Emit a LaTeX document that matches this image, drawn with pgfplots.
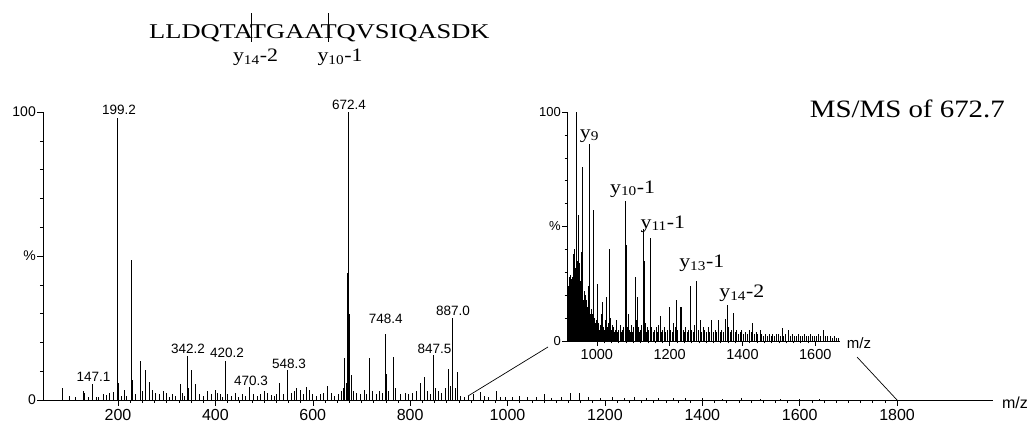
\documentclass[border=0pt]{standalone}
\usepackage{fontspec}
\setmainfont{Liberation Serif}
\newfontfamily\arial{Liberation Sans}
\usepackage{pgfplots}
\pgfplotsset{compat=1.18}

% main spectrum (m/z, relative intensity)
\pgfplotstableread{
mz int
85 4.0
100 1.5
112 1.0
128 3.2
131 2.5
140 1.2
147.1 5.5
155 1.0
160 1.2
170 2.2
175 1.8
183 2.5
190 2.8
199.2 98
201 6
206 1.5
212 3.5
218 1.5
227 48.6
229 7
236 2
245 13.7
250 3
256 10.4
264 6.4
270 3.5
276 2.5
285 2
292 3
300 2.5
306 1.2
311 2
318 1.5
327 5.5
332 2.5
336 1.5
342.2 15.4
345 4
350 10.4
358 5.5
366 2
375 1.5
384 3
392 2
399 3.5
403 2.5
410 2
414 1.2
420.2 13.6
425 2
432 1.5
440 2.5
448 1.2
455 2
462 1.5
470.3 4.6
478 2
486 1.5
492 2
500 3
507 2.5
514 1.8
520 1.5
526 2
531 6
540 2
548.3 10.4
556 2.5
562 3
567 4
575 3.5
580 2
586 4.6
592 3.5
600 2
608 1.5
615 2
622 2.5
629 5
637 2.5
645 1.5
652 2
658 3
662 4
665 14.6
668 6
670 44
671 39
672.4 100
673.4 62
674.4 30
676 10
679 8.7
684 3
690 2.5
698 2
705 3.5
710 2
716 14.6
722 3
730 2
737 3
742 2.5
748.4 23
750 9
756 3
765 15
770 4
780 2
790 2.5
797 2
805 2.5
812 3
821.5 6
829 8
835 3
841 2
847.5 15.6
852 4
858 3
864 2.5
872 4
878 10.6
882 5
887.0 28.6
892 4
897.5 9.8
903 1.5
912 1
920 1.5
930 2
945 2.9
952 1.5
960 1.2
977 3
985 1
995 1.2
1010 1
1025 1.5
1040 1
1058 1.2
1075 2
1090 0.8
1110 1
1128 2.5
1147 2.5
1165 1
1190 0.8
1215 1
1240 0.8
1260 1
1285 0.7
1310 0.8
1340 0.6
1365 0.8
1400 0.6
1440 0.5
1480 0.6
1520 0.5
1560 0.5
1600 0.4
1640 0.4
}\mainspec

% zoomed region 918-1668
\pgfplotstableread{
mz int
918 16
919 22
920 20
921 12
922 24
923 15
924 28
925 18
926 25
927 29
928 14
929 20
930 27
931 16
932 22
933 28
934 38
935 18
936 24
937 40
938 20
939 38
940 25
941 18
942 32
943 22
944 100
945 30
946 18
947 35
948 20
949 28
950 55
951 22
952 34
953 18
954 26
955 20
956 39
957 16
958 24
959 14
960 76
961 20
962 18
963 14
964 22
965 12
966 16
967 20
968 10
969 14
970 18
971 12
972 10
973 15
974 12
975 9
976 14
977 24
978 86
979 48
980 16
981 10
982 12
983 8
984 14
985 10
986 7
987 12
988 9
989 8
990 57
991 18
992 10
993 7
994 9
995 6
996 8
997 7
998 5
999 9
1001 25
1003 6
1005 8
1007 5
1009 7
1011 12
1014.6 17
1017 6
1020 5
1022 9
1025 19
1028 6
1030 8
1034 40
1036 10
1039 5
1042 7
1045 6
1048 4
1051 5
1054 9
1057 4
1060 5
1063 7
1066 4
1069 5
1072 6
1077 61
1080 42
1083 6
1085 12
1088 5
1091 4
1094 7
1097 4
1100 6
1104.5 28
1108 9
1111 19
1114 6
1117 4
1120 5
1123 7
1127 49
1129 35
1132 8
1135 4
1138 6
1141 5
1146 45
1150 6
1154 4
1158 5
1162 6
1165 4
1169 7
1173 11
1177 4
1181 5
1185 6
1189 4
1193 5
1199 15
1203 5
1207 4
1211 8
1215 6
1219 18
1222 5
1228 15
1232 15
1236 5
1240 4
1244 6
1248 4
1252 5
1256 24
1260 5
1264 4
1268 7
1274 26
1278 5
1283 9
1287 4
1291 6
1296 5
1300 4
1305 6
1310 4
1315.5 9
1320 4
1325 5
1329 4
1333 9
1338 4
1343 5
1347 4
1352 9.6
1357 15.7
1362 6
1366 4
1370 5
1375 12.4
1379 4
1384 5
1388 3
1393 4
1398 5
1403 3
1408 4
1413 3
1418 5
1423 4
1427 7.7
1432 3
1437 4
1442 3
1448 4.7
1453 3
1458 2
1463 3
1468 2
1473 3
1478 2
1483 3
1488 2
1493 3
1497 3
1503 2
1508 5.5
1513 2
1518 3
1525 5
1530 2
1536 3
1541 2
1547 2
1552 3
1558 2
1563 2
1569 3
1574 2
1580 2
1586 3
1591 2
1597 2
1603 2
1609 3
1615 2
1622.6 4.7
1628 2
1634 2
1640 2
1646 1.5
1652 2
1658 1.5
1664 1.5
}\zoomspec

\newcommand\pk[1]{{\arial\fontsize{13.5}{13.5}\selectfont #1}}
\newcommand\yion[2]{\scalebox{1.15}[1]{\fontsize{19}{19}\selectfont y\textsubscript{#1}#2}}

\begin{document}
\begin{tikzpicture}
\useasboundingbox (-43pt,-27pt) rectangle (988pt,400pt);

\pgfplotsset{spec/.style={
  scale only axis, clip=false,
  axis x line=bottom, axis y line=left,
  axis line style={-, line width=0.8pt},
  tick align=outside, tick style={black, line width=0.5pt},
  ymin=0, ymax=100,
  ytick={0,50,100}, yticklabels={0,\%,100}, minor y tick num=4,
  /pgf/number format/1000 sep={},
  /pgf/number format/assume math mode=true,
}}

\begin{axis}[spec, at={(0pt,0pt)}, anchor=south west,
  width=950pt, height=288pt,
  xmin=46, xmax=1997,
  xtick={200,400,...,1800}, minor x tick num=7,
  major tick length=6pt, minor tick length=3pt,
  xticklabel style={font=\arial\fontsize{16}{16}\selectfont},
  yticklabel style={font=\arial\fontsize{14}{14}\selectfont, inner sep=1pt},
]
\addplot[ycomb, black, line width=0.55pt, mark=none] table[x=mz, y=int] {\mainspec};
\node[anchor=base] at (axis cs:202,99) {\pk{199.2}};
\node[anchor=base] at (axis cs:674.3,100.7) {\pk{672.4}};
\node[anchor=base] at (axis cs:149.7,6.25) {\pk{147.1}};
\node[anchor=base] at (axis cs:343.7,16.3) {\pk{342.2}};
\node[anchor=base] at (axis cs:423.8,14.6) {\pk{420.2}};
\node[anchor=base] at (axis cs:473,5.2) {\pk{470.3}};
\node[anchor=base] at (axis cs:551,11.1) {\pk{548.3}};
\node[anchor=base] at (axis cs:750,26.7) {\pk{748.4}};
\node[anchor=base] at (axis cs:850,16.3) {\pk{847.5}};
\node[anchor=base] at (axis cs:888,29.5) {\pk{887.0}};
\end{axis}

\begin{axis}[spec, at={(524pt,59pt)}, anchor=south west,
  width=273pt, height=229pt,
  xmin=918, xmax=1668,
  xtick={1000,1200,...,1600}, minor x tick num=9,
  major tick length=5pt, minor tick length=2.5pt,
  xticklabel style={font=\arial\fontsize{14.5}{14.5}\selectfont},
  yticklabel style={font=\arial\fontsize{13}{13}\selectfont, inner sep=1pt},
]
\addplot[ycomb, black, line width=0.5pt, mark=none] table[x=mz, y=int] {\zoomspec};
\node[anchor=base west, inner sep=0] at (axis cs:953,88.6) {\yion{9}{}};
\node[anchor=base west, inner sep=0] at (axis cs:1035.8,64.6) {\yion{10}{-1}};
\node[anchor=base west, inner sep=0] at (axis cs:1120,49.3) {\yion{11}{-1}};
\node[anchor=base west, inner sep=0] at (axis cs:1226,32) {\yion{13}{-1}};
\node[anchor=base west, inner sep=0] at (axis cs:1336,19) {\yion{14}{-2}};
\end{axis}

% zoom connectors
\draw[line width=0.7pt] (425pt,4pt) -- (505pt,53pt);
\draw[line width=0.7pt] (814pt,43pt) -- (854pt,0pt);

% axis names
\node[font=\arial\fontsize{16}{16}\selectfont] at (972pt,-3pt) {m/z};
\node[font=\arial\fontsize{15}{15}\selectfont] at (816pt,57pt) {m/z};

% peptide sequence and cleavage sites
\node[anchor=base west, inner sep=0] at (106pt,361.7pt)
  {\scalebox{1.26}[1]{\fontsize{21}{21}\selectfont LLDQTATGAATQVSIQASDK}};
\draw[line width=0.8pt] (208pt,358pt) -- (208pt,387pt);
\draw[line width=0.8pt] (285pt,358pt) -- (285pt,387pt);
\node[anchor=base, inner sep=0] at (212.5pt,338.3pt) {\yion{14}{-2}};
\node[anchor=base, inner sep=0] at (297pt,338.3pt) {\yion{10}{-1}};

\node[anchor=base east, inner sep=0] at (962pt,282pt)
  {\scalebox{1.155}[1]{\fontsize{25}{25}\selectfont MS/MS of 672.7}};
\end{tikzpicture}
\end{document}
